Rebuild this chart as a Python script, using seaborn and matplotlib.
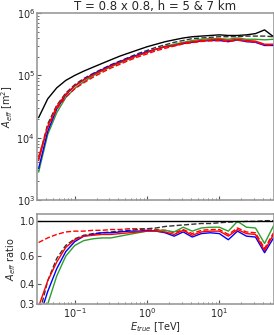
import numpy as np
import pandas as pd
import matplotlib
matplotlib.use("Agg")
import matplotlib.pyplot as plt
import matplotlib.ticker as mticker
import seaborn as sns

# energy bin centres [TeV]
energy = [0.0316, 0.0422, 0.0562, 0.075, 0.1, 0.133, 0.178, 0.237, 0.316,
          0.422, 0.562, 0.75, 1.0, 1.33, 1.78, 2.37, 3.16, 4.22, 5.62, 7.5,
          10.0, 13.3, 17.8, 23.7, 31.6, 42.2, 56.2]

# effective areas [m^2]
aeff_black = [2.1e4, 4.2e4, 6.3e4, 8.3e4, 1.0e5, 1.17e5, 1.35e5, 1.55e5, 1.78e5,
              2.04e5, 2.29e5, 2.57e5, 2.88e5, 3.16e5, 3.47e5, 3.72e5, 3.98e5, 4.17e5,
              4.27e5, 4.37e5, 4.47e5, 4.37e5, 4.37e5, 4.47e5, 4.68e5, 5.37e5, 4.17e5]
aeff_black_dash = [4.5e3, 1.66e4, 3.3e4, 5.2e4, 7.1e4, 8.9e4, 1.07e5, 1.26e5, 1.48e5,
                   1.70e5, 1.95e5, 2.24e5, 2.51e5, 2.82e5, 3.09e5, 3.39e5, 3.63e5, 3.89e5,
                   3.98e5, 4.07e5, 4.17e5, 4.17e5, 4.17e5, 4.27e5, 4.27e5, 4.27e5, 4.17e5]
aeff_red = [4.3e3, 1.51e4, 3.16e4, 5.0e4, 6.8e4, 8.5e4, 1.02e5, 1.20e5, 1.41e5,
            1.62e5, 1.86e5, 2.09e5, 2.34e5, 2.63e5, 2.88e5, 3.02e5, 3.31e5, 3.47e5,
            3.63e5, 3.72e5, 3.80e5, 3.63e5, 3.80e5, 3.63e5, 3.55e5, 3.16e5, 3.16e5]
aeff_blue = [3.2e3, 1.26e4, 2.88e4, 4.9e4, 6.8e4, 8.5e4, 1.05e5, 1.23e5, 1.45e5,
             1.66e5, 1.91e5, 2.14e5, 2.40e5, 2.63e5, 2.88e5, 3.02e5, 3.24e5, 3.39e5,
             3.55e5, 3.63e5, 3.63e5, 3.47e5, 3.72e5, 3.47e5, 3.39e5, 3.02e5, 3.02e5]
aeff_green = [2.8e3, 1.12e4, 2.51e4, 4.4e4, 6.2e4, 7.9e4, 9.8e4, 1.17e5, 1.38e5,
              1.58e5, 1.82e5, 2.09e5, 2.34e5, 2.63e5, 2.95e5, 3.16e5, 3.39e5, 3.63e5,
              3.80e5, 3.89e5, 3.89e5, 3.80e5, 3.98e5, 3.80e5, 3.80e5, 3.72e5, 3.80e5]
aeff_red_dash = [5.0e3, 1.45e4, 2.9e4, 4.5e4, 6.1e4, 7.6e4, 9.3e4, 1.11e5, 1.31e5,
                 1.51e5, 1.74e5, 1.98e5, 2.21e5, 2.48e5, 2.72e5, 2.95e5, 3.20e5, 3.35e5,
                 3.50e5, 3.58e5, 3.60e5, 3.50e5, 3.66e5, 3.55e5, 3.42e5, 3.10e5, 3.05e5]

# effective area ratios
ratio_black_dash = [0.25, 0.42, 0.58, 0.70, 0.77, 0.81, 0.83, 0.84, 0.85, 0.86, 0.87, 0.88,
                    0.89, 0.90, 0.92, 0.93, 0.94, 0.95, 0.96, 0.96, 0.97, 0.98, 0.98, 0.99,
                    0.99, 1.0, 1.0]
ratio_red = [0.29, 0.42, 0.55, 0.68, 0.76, 0.80, 0.81, 0.82, 0.82, 0.83, 0.84, 0.85,
             0.86, 0.86, 0.85, 0.82, 0.87, 0.81, 0.85, 0.86, 0.86, 0.80, 0.88, 0.83,
             0.82, 0.65, 0.82]
ratio_blue = [0.24, 0.36, 0.50, 0.64, 0.74, 0.80, 0.82, 0.84, 0.84, 0.85, 0.86, 0.86,
              0.87, 0.86, 0.84, 0.80, 0.85, 0.79, 0.83, 0.84, 0.83, 0.76, 0.86, 0.80,
              0.79, 0.63, 0.78]
ratio_green = [0.20, 0.30, 0.45, 0.60, 0.70, 0.75, 0.77, 0.78, 0.78, 0.80, 0.82, 0.84,
               0.86, 0.87, 0.87, 0.85, 0.91, 0.86, 0.90, 0.91, 0.91, 0.86, 0.99, 0.91,
               0.90, 0.72, 0.93]
ratio_red_dash = [0.73, 0.78, 0.82, 0.85, 0.86, 0.86, 0.87, 0.87, 0.88, 0.88, 0.89, 0.89,
                  0.89, 0.88, 0.87, 0.84, 0.88, 0.83, 0.87, 0.88, 0.88, 0.82, 0.90, 0.85,
                  0.84, 0.67, 0.84]

ratio_ticks = [0.3, 0.4, 0.6, 1.0]

sns.set_style("ticks")
plt.rcParams['font.family'] = ['DejaVu Sans']
plt.rcParams['axes.edgecolor'] = '#9a9a9a'
plt.rcParams['axes.linewidth'] = 1.2

fig = plt.figure(figsize=(2.74, 3.35), dpi=100)
ax1 = fig.add_axes([0.135, 0.403, 0.865, 0.558])
ax2 = fig.add_axes([0.135, 0.092, 0.865, 0.269])

top_series = [
    (aeff_black, 'black', '-'),
    (aeff_black_dash, '#333333', '--'),
    (aeff_green, '#2ca02c', '-'),
    (aeff_blue, 'blue', '-'),
    (aeff_red, 'red', '-'),
    (aeff_red_dash, 'red', '--'),
]
for vals, col, ls in top_series:
    sns.lineplot(x=energy, y=vals, ax=ax1, color=col, linestyle=ls, linewidth=1.0)

bottom_series = [
    (ratio_red_dash, 'red', '--'),
    (ratio_black_dash, '#333333', '--'),
    (ratio_green, '#2ca02c', '-'),
    (ratio_blue, 'blue', '-'),
    (ratio_red, 'red', '-'),
]
for vals, col, ls in bottom_series:
    sns.lineplot(x=energy, y=vals, ax=ax2, color=col, linestyle=ls, linewidth=1.0)
ax2.axhline(1.0, color='black', linewidth=1.0)

for ax in (ax1, ax2):
    ax.set_xscale('log')
    ax.set_yscale('log')
    ax.set_xlim(0.03, 57)
    ax.tick_params(which='both', direction='in', labelsize=7, pad=1.5, color='#555555')
    ax.tick_params(which='major', length=3)
    ax.tick_params(which='minor', length=1.5)

ax1.set_ylim(1e3, 1e6)
ax1.tick_params(axis='x', which='both', labelbottom=False)
ax1.set_ylabel('$A_{eff}$ [m$^2$]', fontsize=7, labelpad=1)
ax1.set_title('T = 0.8 x 0.8, h = 5 & 7 km', fontsize=8.5, pad=2)

ax2.set_ylim(0.3, 1.1)
ax2.yaxis.set_major_locator(mticker.FixedLocator(ratio_ticks))
ax2.yaxis.set_major_formatter(mticker.FormatStrFormatter('%.1f'))
ax2.yaxis.set_minor_locator(mticker.NullLocator())
ax2.set_ylabel('$A_{eff}$ ratio', fontsize=7, labelpad=1)
ax2.set_xlabel('$E_{true}$ [TeV]', fontsize=7, labelpad=0)

fig.savefig('out.png', dpi=100)
